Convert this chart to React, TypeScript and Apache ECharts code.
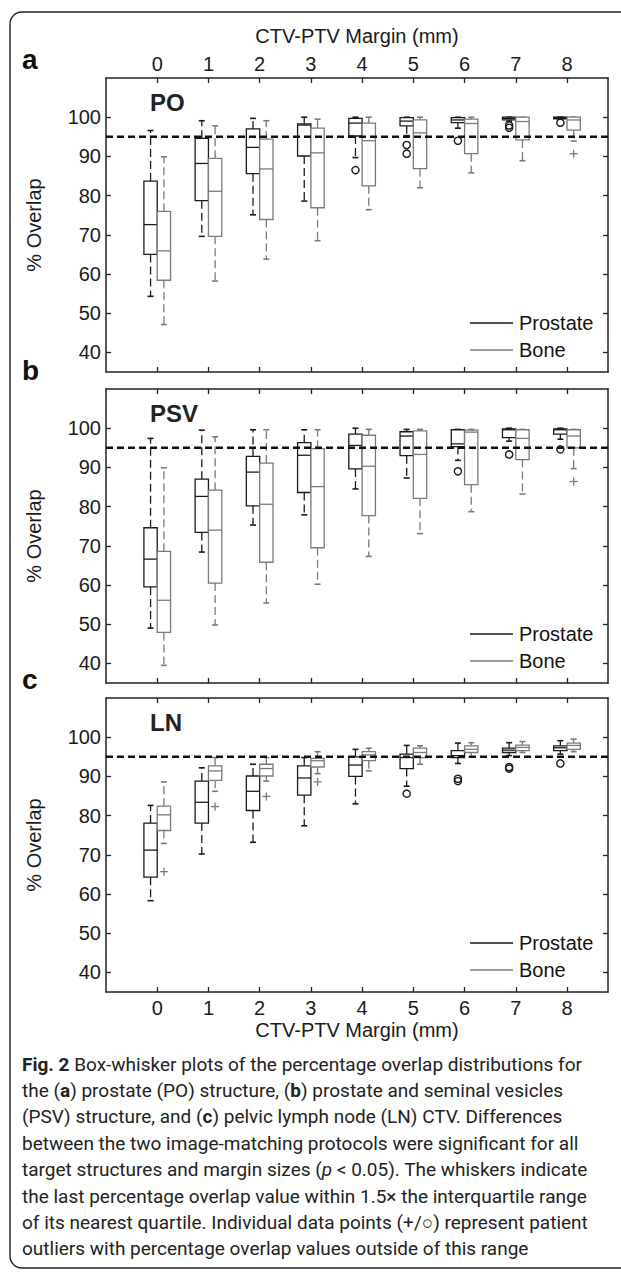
import React, { useEffect, useRef } from "react";
import * as echarts from "echarts";

// ---------------- data ----------------
const margins = [0, 1, 2, 3, 4, 5, 6, 7, 8];
const yTicks = [40, 50, 60, 70, 80, 90, 100];
const threshold = 95;

// each box: [lower whisker, Q1, median, Q3, upper whisker]
const poProstate = [
  [54.3, 65.0, 72.6, 83.7, 96.6],
  [69.6, 78.7, 88.2, 94.6, 99.1],
  [75.1, 85.6, 92.3, 97.0, 99.7],
  [78.6, 90.1, 98.0, 98.3, 100],
  [89.7, 95.2, 98.5, 99.7, 100],
  [95.3, 97.8, 99.0, 99.9, 100],
  [97.2, 98.6, 99.3, 99.9, 100],
  [99.0, 99.3, 99.7, 100, 100],
  [99.5, 99.6, 99.9, 100, 100],
];
const poBone = [
  [47.1, 58.4, 65.9, 76.0, 89.9],
  [58.2, 69.6, 81.1, 89.5, 97.8],
  [63.8, 73.9, 86.8, 94.4, 99.1],
  [68.5, 76.9, 90.9, 97.2, 99.5],
  [76.4, 82.5, 94.0, 98.5, 100],
  [82.0, 86.9, 96.0, 99.3, 100],
  [85.8, 90.7, 98.4, 99.5, 100],
  [88.9, 94.2, 98.9, 100, 100],
  [93.9, 96.7, 99.3, 100, 100],
];
const poProstateOut = [[4, 86.5], [5, 92.9], [5, 90.7], [6, 94.0], [7, 97.9], [7, 97.3], [8, 98.6]];
const poBoneOut = [[8, 90.7]];

const psvProstate = [
  [49.0, 59.5, 66.6, 74.6, 97.4],
  [68.4, 73.4, 82.6, 87.0, 99.5],
  [75.3, 80.2, 88.8, 92.8, 99.6],
  [77.9, 83.6, 93.1, 96.3, 99.6],
  [84.5, 89.6, 95.6, 98.5, 100],
  [87.3, 93.0, 98.0, 99.1, 99.7],
  [91.8, 95.3, 96.0, 99.6, 99.7],
  [96.7, 97.6, 99.6, 99.8, 100],
  [97.2, 98.5, 99.6, 99.8, 100],
];
const psvBone = [
  [39.5, 47.9, 56.1, 68.6, 89.9],
  [49.8, 60.5, 74.0, 84.2, 97.8],
  [55.4, 65.8, 80.6, 91.1, 99.6],
  [60.2, 69.5, 85.1, 94.8, 99.6],
  [67.3, 77.7, 90.3, 98.2, 99.7],
  [73.1, 82.1, 93.3, 99.3, 99.7],
  [78.7, 85.6, 99.0, 99.5, 99.7],
  [83.2, 92.0, 97.4, 99.6, 99.7],
  [89.7, 95.0, 98.0, 99.6, 99.7],
];
const psvProstateOut = [[6, 89.0], [7, 93.3], [8, 94.6]];
const psvBoneOut = [[8, 86.4]];

const lnProstate = [
  [58.3, 64.3, 71.2, 78.1, 82.6],
  [70.2, 78.1, 83.4, 88.8, 92.2],
  [73.2, 81.3, 86.2, 90.1, 93.1],
  [77.4, 85.2, 89.6, 92.7, 94.8],
  [83.0, 90.0, 92.9, 95.0, 96.9],
  [87.5, 92.0, 94.8, 95.7, 97.9],
  [93.3, 94.8, 95.3, 96.6, 98.5],
  [95.3, 96.1, 96.7, 97.2, 98.6],
  [95.7, 96.6, 97.3, 97.8, 99.1],
];
const lnBone = [
  [72.9, 76.2, 80.2, 82.4, 88.6],
  [86.2, 89.0, 91.4, 92.7, 94.8],
  [88.8, 90.1, 92.0, 93.1, 94.8],
  [90.7, 92.4, 94.0, 94.6, 96.3],
  [91.4, 94.0, 95.5, 96.3, 97.2],
  [93.1, 94.8, 96.1, 97.2, 97.8],
  [95.0, 96.1, 96.9, 97.8, 98.6],
  [96.1, 96.6, 97.4, 98.0, 98.9],
  [96.3, 96.9, 97.9, 98.5, 99.5],
];
const lnProstateOut = [[5, 85.6], [6, 89.4], [6, 88.8], [7, 92.4], [7, 92.0], [8, 93.3]];
const lnBoneOut = [[0, 65.7], [1, 82.3], [2, 84.9], [3, 88.6]];

const panelNames = ["PO", "PSV", "LN"];
const panelLetters = ["a", "b", "c"];
const seriesNames = ["Prostate", "Bone"];
const xTitle = "CTV-PTV Margin (mm)";
const yTitle = "% Overlap";

const captionLines = [
  "{b|Fig. 2} Box-whisker plots of the percentage overlap distributions for",
  "the ({b|a}) prostate (PO) structure, ({b|b}) prostate and seminal vesicles",
  "(PSV) structure, and ({b|c}) pelvic lymph node (LN) CTV. Differences",
  "between the two image-matching protocols were significant for all",
  "target structures and margin sizes ({i|p} < 0.05). The whiskers indicate",
  "the last percentage overlap value within 1.5× the interquartile range",
  "of its nearest quartile. Individual data points (+/○) represent patient",
  "outliers with percentage overlap values outside of this range",
];

// ---------------- layout / style ----------------
const PANEL_TOPS = [78, 389, 698];
const PANEL_H = 294;
const GRID_LEFT = 106;
const GRID_RIGHT = 13;
const X_MIN = -1;
const X_MAX = 8.8;
const Y_MIN = 35;
const Y_MAX = 110;
const BOX_W = 0.26;
const OFFSET = 0.13;
const CAP_PX = 6;
const BLACK = "#1a1a1a";
const GREY = "#7a7a7a";
const FONT = "'Liberation Sans', Arial, sans-serif";
const CAP_FONT = "Roboto, 'Noto Sans', sans-serif";
const CAP_SIZE = 19;

function boxRenderer(offset: number, color: string) {
  return (params: any, api: any) => {
    const x = api.value(0) + offset;
    const lo = api.coord([x, api.value(1)]);
    const q1 = api.coord([x, api.value(2)]);
    const med = api.coord([x, api.value(3)]);
    const q3 = api.coord([x, api.value(4)]);
    const hi = api.coord([x, api.value(5)]);
    const half = api.size([BOX_W, 0])[0] / 2;
    const cx = q1[0];
    const lw = 1.3;
    const dash = [8, 4];
    return {
      type: "group",
      children: [
        {
          type: "line",
          shape: { x1: cx, y1: q3[1], x2: cx, y2: hi[1] },
          style: { stroke: color, lineWidth: lw, lineDash: dash },
        },
        {
          type: "line",
          shape: { x1: cx, y1: q1[1], x2: cx, y2: lo[1] },
          style: { stroke: color, lineWidth: lw, lineDash: dash },
        },
        {
          type: "line",
          shape: { x1: cx - CAP_PX / 2, y1: hi[1], x2: cx + CAP_PX / 2, y2: hi[1] },
          style: { stroke: color, lineWidth: lw + 0.3 },
        },
        {
          type: "line",
          shape: { x1: cx - CAP_PX / 2, y1: lo[1], x2: cx + CAP_PX / 2, y2: lo[1] },
          style: { stroke: color, lineWidth: lw + 0.3 },
        },
        {
          type: "rect",
          shape: { x: cx - half, y: q3[1], width: half * 2, height: q1[1] - q3[1] },
          style: { fill: "#fff", stroke: color, lineWidth: lw },
        },
        {
          type: "line",
          shape: { x1: cx - half, y1: med[1], x2: cx + half, y2: med[1] },
          style: { stroke: color, lineWidth: lw },
        },
      ],
    };
  };
}

function outlierRenderer(offset: number, color: string, kind: "circle" | "plus") {
  return (params: any, api: any) => {
    const p = api.coord([api.value(0) + offset, api.value(1)]);
    if (kind === "circle") {
      return {
        type: "circle",
        shape: { cx: p[0], cy: p[1], r: 3.6 },
        style: { fill: "none", stroke: color, lineWidth: 1.4 },
      };
    }
    const s = 4;
    return {
      type: "group",
      children: [
        { type: "line", shape: { x1: p[0] - s, y1: p[1], x2: p[0] + s, y2: p[1] }, style: { stroke: color, lineWidth: 1.3 } },
        { type: "line", shape: { x1: p[0], y1: p[1] - s, x2: p[0], y2: p[1] + s }, style: { stroke: color, lineWidth: 1.3 } },
      ],
    };
  };
}

const panels = [
  { pro: poProstate, bone: poBone, proOut: poProstateOut, boneOut: poBoneOut },
  { pro: psvProstate, bone: psvBone, proOut: psvProstateOut, boneOut: psvBoneOut },
  { pro: lnProstate, bone: lnBone, proOut: lnProstateOut, boneOut: lnBoneOut },
];

function buildOption() {
  const grid: any[] = [];
  const xAxis: any[] = [];
  const yAxis: any[] = [];
  const series: any[] = [];
  const graphic: any[] = [];

  const axisLine = { show: true, onZero: false, lineStyle: { color: "#222", width: 1.5 } };
  const tick = { show: true, inside: true, length: 5, lineStyle: { color: "#222", width: 1.3 } };
  const labelStyle = { fontSize: 20, color: "#1a1a1a", fontFamily: FONT };

  panels.forEach((p, i) => {
    grid.push({ left: GRID_LEFT, right: GRID_RIGHT, top: PANEL_TOPS[i], height: PANEL_H });
    xAxis.push({
      gridIndex: i, type: "value", position: "bottom", min: X_MIN, max: X_MAX,
      axisLine, axisTick: { ...tick, customValues: margins },
      axisLabel: { show: i === 2, customValues: margins, margin: 6, ...labelStyle },
      splitLine: { show: false },
    });
    xAxis.push({
      gridIndex: i, type: "value", position: "top", min: X_MIN, max: X_MAX,
      axisLine, axisTick: { ...tick, customValues: margins },
      axisLabel: { show: i === 0, customValues: margins, margin: 4, ...labelStyle },
      splitLine: { show: false },
    });
    yAxis.push({
      gridIndex: i, type: "value", position: "left", min: Y_MIN, max: Y_MAX,
      axisLine, axisTick: { ...tick, customValues: yTicks },
      axisLabel: { show: true, customValues: yTicks, margin: 5, ...labelStyle },
      splitLine: { show: false },
      name: yTitle, nameLocation: "middle", nameGap: 62, nameRotate: 90,
      nameTextStyle: { fontSize: 20, color: "#1a1a1a", fontFamily: FONT },
    });
    yAxis.push({
      gridIndex: i, type: "value", position: "right", min: Y_MIN, max: Y_MAX,
      axisLine, axisTick: { ...tick, customValues: yTicks },
      axisLabel: { show: false },
      splitLine: { show: false },
    });

    const xi = i * 2;
    const yi = i * 2;
    series.push({
      type: "line", xAxisIndex: xi, yAxisIndex: yi, z: 5, symbol: "none",
      data: [[X_MIN, threshold], [X_MAX, threshold]],
      lineStyle: { color: "#111", width: 2.6, type: [7, 4] },
      silent: true,
    });
    series.push({
      type: "custom", name: seriesNames[0], xAxisIndex: xi, yAxisIndex: yi, z: 3,
      renderItem: boxRenderer(-OFFSET, BLACK),
      encode: { x: 0, y: [1, 2, 3, 4, 5] },
      data: margins.map((m, k) => [m, ...p.pro[k]]),
    });
    series.push({
      type: "custom", name: seriesNames[1], xAxisIndex: xi, yAxisIndex: yi, z: 3,
      renderItem: boxRenderer(OFFSET, GREY),
      encode: { x: 0, y: [1, 2, 3, 4, 5] },
      data: margins.map((m, k) => [m, ...p.bone[k]]),
    });
    series.push({
      type: "custom", xAxisIndex: xi, yAxisIndex: yi, z: 6,
      renderItem: outlierRenderer(-OFFSET, BLACK, "circle"),
      encode: { x: 0, y: 1 },
      data: p.proOut,
    });
    series.push({
      type: "custom", xAxisIndex: xi, yAxisIndex: yi, z: 6,
      renderItem: outlierRenderer(OFFSET, GREY, "plus"),
      encode: { x: 0, y: 1 },
      data: p.boneOut,
    });

    const top = PANEL_TOPS[i];
    graphic.push({
      type: "text", left: 22, top: top - 33,
      style: { text: panelLetters[i], font: `bold 28px ${FONT}`, fill: "#111" },
    });
    graphic.push({
      type: "text", left: 150, top: top + 12,
      style: { text: panelNames[i], font: `bold 24px ${FONT}`, fill: "#222" },
    });
    [0, 1].forEach((k) => {
      const ly = top + 245 + k * 27;
      graphic.push({
        type: "line", shape: { x1: 470, y1: ly, x2: 513, y2: ly },
        style: { stroke: k === 0 ? BLACK : GREY, lineWidth: 1.3 },
      });
      graphic.push({
        type: "text", x: 519, y: ly, style: {
          text: seriesNames[k], font: `20px ${FONT}`, fill: "#111", verticalAlign: "middle",
        },
      });
    });
  });

  const cx = GRID_LEFT + (621 - GRID_LEFT - GRID_RIGHT) / 2;
  graphic.push({
    type: "text", x: cx, y: 36,
    style: { text: xTitle, font: `20px ${FONT}`, fill: "#1a1a1a", align: "center", verticalAlign: "middle" },
  });
  graphic.push({
    type: "text", x: cx, y: 1030,
    style: { text: xTitle, font: `20px ${FONT}`, fill: "#1a1a1a", align: "center", verticalAlign: "middle" },
  });

  captionLines.forEach((line, k) => {
    graphic.push({
      type: "text", x: 22, y: 1064 + k * 26.4,
      style: {
        text: line, fill: "#222", font: `${CAP_SIZE}px ${CAP_FONT}`, verticalAlign: "middle",
        rich: {
          b: { fontWeight: "bold", fontSize: CAP_SIZE, fontFamily: CAP_FONT, fill: "#222" },
          i: { fontStyle: "italic", fontSize: CAP_SIZE, fontFamily: CAP_FONT, fill: "#222" },
        },
      },
    });
  });

  graphic.push({
    type: "rect", shape: { x: 10, y: 12, width: 700, height: 1256, r: 12 },
    style: { fill: "none", stroke: "#222", lineWidth: 1.4 },
    silent: true,
  });

  return {
    animation: false,
    backgroundColor: "#fff",
    grid, xAxis, yAxis, series, graphic,
  };
}

export default function App() {
  const ref = useRef<HTMLDivElement>(null);
  useEffect(() => {
    if (!ref.current) return;
    const chart = echarts.init(ref.current, null, { renderer: "svg" });
    chart.setOption(buildOption() as any);
    return () => chart.dispose();
  }, []);
  return (
    <div
      ref={ref}
      style={{ position: "absolute", left: 0, top: 0, width: 621, height: 1278, background: "#fff" }}
    />
  );
}
